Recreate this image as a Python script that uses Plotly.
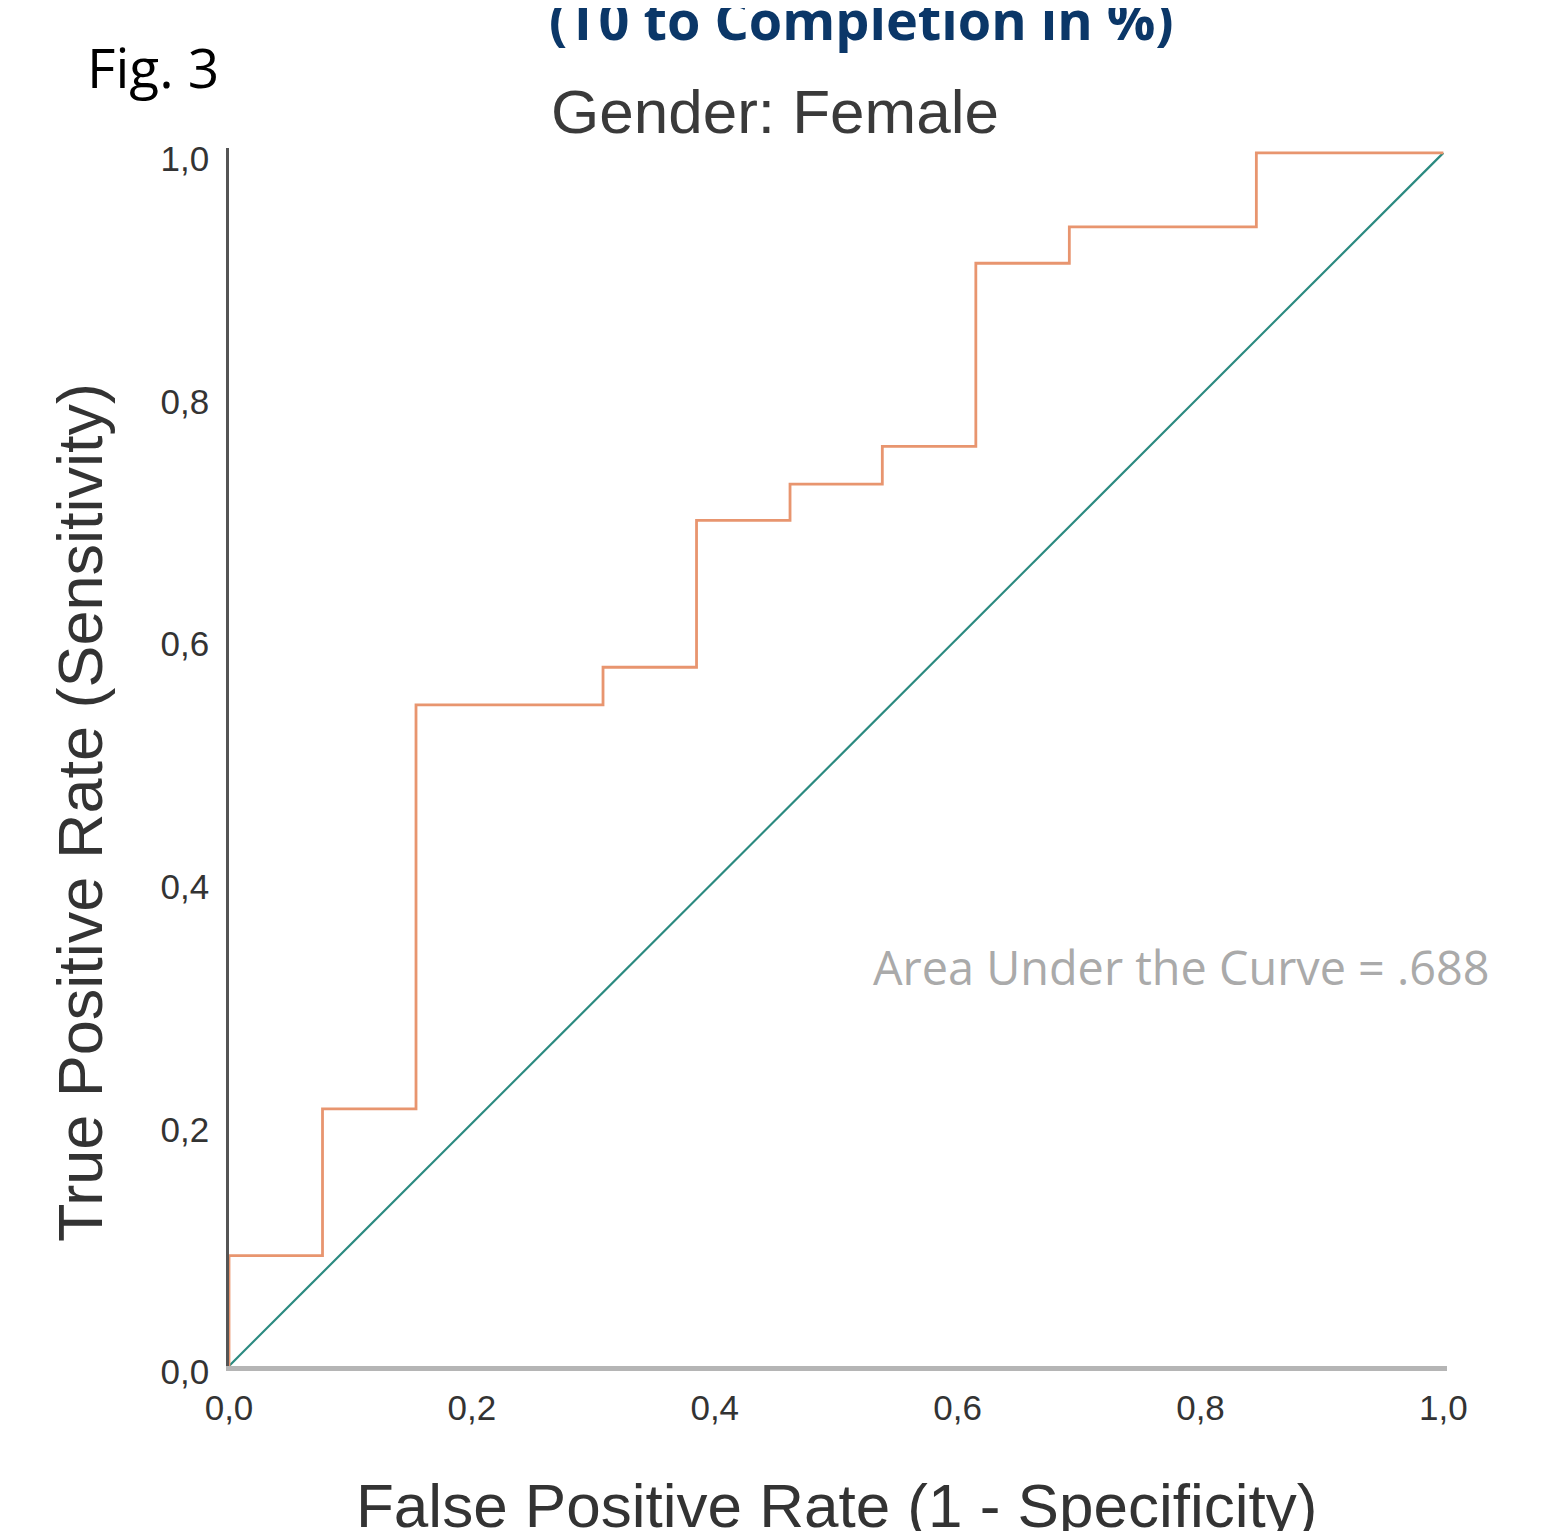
import plotly.graph_objects as go

# ROC step vertices (drawn with 'vh' steps)
fpr = [0.0, 0.077, 0.154, 0.308, 0.385, 0.462, 0.538, 0.615, 0.692, 0.846, 1.0]
tpr = [0.0, 0.091, 0.212, 0.545, 0.576, 0.697, 0.727, 0.758, 0.909, 0.939, 1.0]
ref_x = [0.0, 1.0]
ref_y = [0.0, 1.0]
tick_vals = [0.0, 0.2, 0.4, 0.6, 0.8, 1.0]
tick_labels = ["0,0", "0,2", "0,4", "0,6", "0,8", "1,0"]
auc_text = "Area Under the Curve = .688"

OFF = 8  # default body margin of the html page
PW, PH = 1557, 1539
W, H = PW - 2 * OFF, PH - 2 * OFF
x0px, x1px = 229 - OFF, 1443 - OFF
y1px, y0px = 153 - OFF, 1366 - OFF
xr = [0, 1.003]
yr = [0, 1.004]
pw = (x1px - x0px) * xr[1]
ph = (y0px - y1px) * yr[1]
top = y0px - ph


def px(xpage):
    return (xpage - OFF - x0px) / pw


def py(ypage):
    return (y0px - (ypage - OFF)) / ph


fig = go.Figure()
fig.add_trace(go.Scatter(x=ref_x, y=ref_y, mode="lines",
                         line=dict(color="#2b8a80", width=2.2), showlegend=False))
fig.add_trace(go.Scatter(x=fpr, y=tpr, mode="lines", line_shape="vh",
                         line=dict(color="#e8956f", width=2.8), showlegend=False))

fig.update_layout(
    width=W, height=H, autosize=False,
    paper_bgcolor="white", plot_bgcolor="white",
    margin=dict(l=x0px, r=W - x0px - pw, t=top, b=H - y0px, pad=0),
    showlegend=False,
)
fig.update_xaxes(range=xr, tickvals=tick_vals, ticktext=tick_labels,
                 showgrid=False, zeroline=False, showline=True,
                 linecolor="#b5b5b5", linewidth=5, ticks="",
                 tickfont=dict(family="Liberation Sans", size=35, color="#333333"),
                 ticklabelstandoff=7)
fig.update_yaxes(range=yr, tickvals=tick_vals, ticktext=tick_labels,
                 showgrid=False, zeroline=False, showline=True,
                 linecolor="#555555", linewidth=2.5, ticks="",
                 tickfont=dict(family="Liberation Sans", size=35, color="#333333"),
                 ticklabelstandoff=10, ticklabelshift=6)

# axis titles as annotations for precise placement
fig.add_annotation(text="False Positive Rate (1 - Specificity)", xref="paper", yref="paper",
                   x=px(836.5), y=py(1505), xanchor="center", yanchor="middle",
                   showarrow=False,
                   font=dict(family="Liberation Sans", size=62, color="#333333"))
fig.add_annotation(text="True Positive Rate (Sensitivity)", xref="paper", yref="paper",
                   x=px(80), y=py(812), xanchor="center", yanchor="middle", textangle=-90,
                   showarrow=False,
                   font=dict(family="Liberation Sans", size=63, color="#333333"))

fig.add_annotation(text="(T0 to Completion in %)", xref="paper", yref="paper",
                   x=px(861), y=py(58), xanchor="center", yanchor="bottom",
                   showarrow=False,
                   font=dict(family="Open Sans", size=54, color="#0b3768", weight="bold"))
fig.add_annotation(text="Fig. 3", xref="paper", yref="paper",
                   x=px(85), y=py(67), xanchor="left", yanchor="middle",
                   showarrow=False,
                   font=dict(family="Open Sans", size=55, color="#000000"))
fig.add_annotation(text="Gender: Female", xref="paper", yref="paper",
                   x=px(775), y=py(112), xanchor="center", yanchor="middle",
                   showarrow=False,
                   font=dict(family="Liberation Sans", size=62, color="#3a3a3a"))
fig.add_annotation(text=auc_text, xref="paper", yref="paper",
                   x=px(1492), y=py(967), xanchor="right", yanchor="middle",
                   showarrow=False,
                   font=dict(family="Open Sans", size=46.8, color="#aaaaaa"))

fig.write_html("out.html")
